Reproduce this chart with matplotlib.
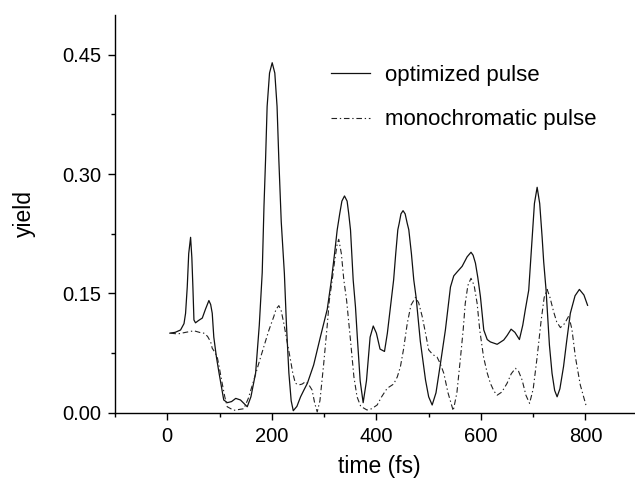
import matplotlib.pyplot as plt
from matplotlib.ticker import MultipleLocator

plt.rcParams['font.family'] = ['Liberation Sans', 'DejaVu Sans']

# optimized pulse (solid)
t_opt = [5, 15, 25.4, 32, 35, 38.2, 41, 44.6, 47, 49, 51, 54, 60, 67, 73,
         79.6, 83, 86, 89, 94, 99, 108, 115, 123, 131, 140, 153, 160, 169,
         176, 181.6, 185, 188, 191, 195.6, 200.7, 205.7, 210, 213.4, 218,
         224, 228, 232.6, 237, 241, 248, 255, 261, 268, 280, 293, 306, 314,
         320, 325, 330, 334, 339, 344, 347, 350.5, 355.6, 360, 364, 369,
         374.7, 381, 388, 394, 400, 407, 415.5, 421, 427, 433, 437, 441,
         443.6, 447, 451, 455, 459, 462, 467, 471.5, 476, 484, 494, 500,
         506.7, 514, 522.6, 532, 541.7, 548, 554.5, 564, 573.6, 581, 585,
         589.5, 594, 599, 605.4, 612, 618, 631, 643.6, 650, 657.7, 665,
         673.6, 680, 685, 691.4, 695, 698, 702.3, 707.5, 712.4, 717, 720,
         724.6, 731, 736, 741, 745.7, 751, 758, 764, 771, 780, 788.3, 797,
         804]
y_opt = [0.100, 0.101, 0.104, 0.112, 0.125, 0.158, 0.200, 0.2205, 0.195,
         0.158, 0.1166, 0.113, 0.116, 0.119, 0.130, 0.141, 0.136, 0.125,
         0.095, 0.070, 0.050, 0.016, 0.0126, 0.014, 0.018, 0.016, 0.0075,
         0.020, 0.050, 0.110, 0.176, 0.260, 0.318, 0.385, 0.427, 0.440,
         0.427, 0.385, 0.318, 0.240, 0.175, 0.110, 0.050, 0.015, 0.0025,
         0.008, 0.020, 0.028, 0.037, 0.060, 0.0956, 0.130, 0.167, 0.200,
         0.2297, 0.2507, 0.266, 0.2725, 0.266, 0.2507, 0.2297, 0.167, 0.133,
         0.090, 0.040, 0.0126, 0.040, 0.095, 0.109, 0.100, 0.080, 0.077,
         0.100, 0.133, 0.167, 0.200, 0.230, 0.238, 0.250, 0.254, 0.250,
         0.238, 0.230, 0.200, 0.167, 0.145, 0.090, 0.041, 0.020, 0.0097,
         0.025, 0.062, 0.104, 0.158, 0.172, 0.177, 0.184, 0.196, 0.2017,
         0.198, 0.188, 0.170, 0.146, 0.104, 0.092, 0.089, 0.086, 0.0914,
         0.097, 0.105, 0.101, 0.092, 0.110, 0.130, 0.154, 0.190, 0.221,
         0.263, 0.2834, 0.263, 0.221, 0.190, 0.154, 0.085, 0.0495, 0.028,
         0.020, 0.030, 0.058, 0.090, 0.125, 0.147, 0.155, 0.148, 0.135]

# monochromatic pulse (dash-dot)
t_mono = [6, 20, 35, 51, 63.7, 70, 77, 83, 86, 90, 95.6, 100, 105, 110,
          114.7, 127, 146.5, 155, 165.6, 175, 184.7, 194, 203.8, 208, 213.4,
          218, 223, 229, 235.8, 240, 245, 252, 258, 264.4, 270, 277, 282,
          286.8, 292, 299, 306, 310, 315.5, 320, 325, 328, 333, 337.7, 343,
          350.5, 357, 363, 370, 382, 391, 401.5, 410, 420.6, 433, 440, 446,
          452, 459, 466, 474.8, 481, 487.6, 494, 500, 508, 516, 522, 529,
          537, 547, 554, 561, 566, 570, 575, 581, 587, 592.7, 597.7, 605,
          612, 618, 625, 631, 640, 650, 658, 666, 672, 678.8, 686, 693, 700,
          707.5, 715, 721, 726.6, 732, 739, 745, 752, 760, 768, 774, 780.7,
          790, 801.7]
y_mono = [0.100, 0.099, 0.101, 0.103, 0.1006, 0.100, 0.096, 0.089, 0.081,
          0.077, 0.070, 0.055, 0.037, 0.020, 0.0075, 0.003, 0.005, 0.018,
          0.041, 0.062, 0.083, 0.103, 0.121, 0.130, 0.1346, 0.128, 0.112,
          0.090, 0.066, 0.050, 0.037, 0.035, 0.036, 0.039, 0.036, 0.0285,
          0.012, 0.001, 0.015, 0.060, 0.110, 0.1415, 0.167, 0.190, 0.212,
          0.218, 0.200, 0.167, 0.1415, 0.091, 0.045, 0.020, 0.008, 0.0034,
          0.005, 0.0097, 0.020, 0.0307, 0.036, 0.045, 0.058, 0.080, 0.112,
          0.135, 0.145, 0.138, 0.121, 0.100, 0.079, 0.073, 0.070, 0.062,
          0.0495, 0.025, 0.0025, 0.025, 0.070, 0.104, 0.1375, 0.160, 0.169,
          0.160, 0.1375, 0.104, 0.070, 0.050, 0.037, 0.027, 0.022, 0.026,
          0.037, 0.049, 0.0558, 0.052, 0.041, 0.022, 0.0118, 0.030, 0.070,
          0.115, 0.145, 0.155, 0.145, 0.127, 0.114, 0.107, 0.112, 0.1216,
          0.105, 0.070, 0.035, 0.0075]

x_major = [0, 200, 400, 600, 800]
y_major = [0.00, 0.15, 0.30, 0.45]

fig = plt.figure(figsize=(6.35, 4.86), dpi=100)
ax = fig.add_axes([115 / 635, 73.3 / 486, 528 / 635, 397.7 / 486])

ax.plot(t_opt, y_opt, color='#111111', lw=0.9, label='optimized pulse')
mono, = ax.plot(t_mono, y_mono, color='#222222', lw=0.8,
                label='monochromatic pulse')
mono.set_dashes((5, 2.5, 1.2, 2.5))

ax.set_xlim(-100, 910)
ax.set_ylim(0, 0.50)
ax.set_xticks(x_major)
ax.set_yticks(y_major)
ax.set_yticklabels(['%.2f' % v for v in y_major])
ax.xaxis.set_minor_locator(MultipleLocator(100))
ax.yaxis.set_minor_locator(MultipleLocator(0.075))

for side in ('top', 'right'):
    ax.spines[side].set_visible(False)
for side in ('left', 'bottom'):
    ax.spines[side].set_linewidth(1.0)

ax.tick_params(which='major', direction='out', length=5, width=1.0,
               labelsize=14.5, pad=5)
ax.tick_params(which='minor', direction='out', length=3, width=1.0)

ax.set_xlabel('time (fs)', fontsize=16.5, labelpad=7)
ax.set_ylabel('yield', fontsize=16.5, labelpad=19)

ax.legend(loc='upper left', bbox_to_anchor=(331 / 635, 1 - 65 / 486),
          bbox_transform=fig.transFigure, frameon=False, fontsize=16,
          handlelength=1.75, handletextpad=0.7, labelspacing=1.05,
          borderpad=0, borderaxespad=0)

fig.savefig('out.png', dpi=100)
